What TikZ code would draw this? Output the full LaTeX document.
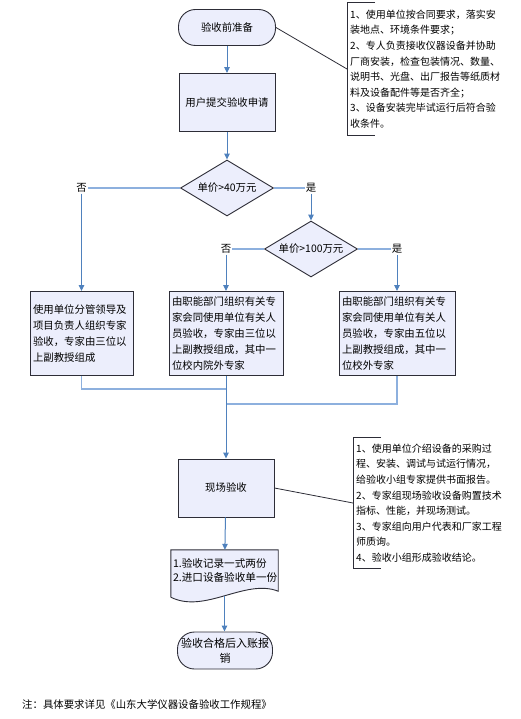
\documentclass[tikz,border=0pt]{standalone}
\usepackage{fontspec}
\setmainfont{Noto Sans CJK SC}
\usetikzlibrary{positioning,arrows.meta,calc,shapes.geometric,backgrounds}
\definecolor{boxfill}{RGB}{236,238,252}
\definecolor{arcol}{RGB}{79,129,189}
\definecolor{lncol}{RGB}{141,176,222}
\definecolor{edgecol}{RGB}{45,45,55}

\begin{document}
\begin{tikzpicture}[
  x=1pt, y=-1pt,
  font=\fontsize{10.4}{16}\selectfont,
  term/.style={draw=edgecol, line width=0.9pt, fill=boxfill, rounded corners=17pt, minimum width=97pt, minimum height=36pt, align=center, inner sep=2pt},
  proc/.style={draw=edgecol, line width=0.9pt, fill=boxfill, minimum width=96pt, minimum height=58pt, align=center},
  dec/.style={diamond, draw=edgecol, line width=0.9pt, fill=boxfill, minimum width=93pt, minimum height=56pt, inner sep=0pt},
  tbox/.style={draw=edgecol, line width=0.9pt, fill=boxfill, align=left, inner sep=3pt, minimum height=84pt},
  note/.style={align=left, inner sep=3pt, font=\fontsize{10}{15.6}\selectfont, text width=162pt},
  yn/.style={inner sep=1pt},
  ar/.style={arcol, line width=1pt, -{Triangle[length=6pt,width=5.5pt]}},
  ln/.style={lncol, line width=1.2pt},
  br/.style={edgecol, line width=0.8pt},
]
\useasboundingbox (0,0) rectangle (520,719);
\def\xm{226} \def\xa{81.5} \def\xr{311} \def\xc{397}
% ---- top: preparation and request ----
\node[term] (start) at (227,27.5) {验收前准备};
\node[proc] (req) at (227,102.5) {用户提交验收申请};
\node[note, anchor=west, minimum height=132pt] (n1) at (347,69) {1、使用单位按合同要求，落实安\\装地点、环境条件要求；\\2、专人负责接收仪器设备并协助\\厂商安装，检查包装情况、数量、\\说明书、光盘、出厂报告等纸质材\\料及设备配件等是否齐全；\\3、设备安装完毕试运行后符合验\\收条件。};
% ---- price decisions ----
\node[dec, label=center:{单价>40万元}] (d1) at (227,188) {};
\node[yn] (no1) at (\xa,188) {否};
\node[yn] (yes1) at (\xr,188) {是};
\node[dec, label=center:{单价>100万元}] (d2) at (\xr,249) {};
\node[yn] (no2) at (\xm,249) {否};
\node[yn] (yes2) at (\xc,249) {是};
% ---- expert groups ----
\node[tbox, text width=97pt] (ga) at (\xa,333.5) {使用单位分管领导及\\项目负责人组织专家\\验收，专家由三位以\\上副教授组成};
\node[tbox, text width=108pt] (gb) at (\xm,333.5) {由职能部门组织有关专\\家会同使用单位有关人\\员验收，专家由三位以\\上副教授组成，其中一\\位校内院外专家};
\node[tbox, text width=110pt] (gc) at (\xc,333.5) {由职能部门组织有关专\\家会同使用单位有关人\\员验收，专家由五位以\\上副教授组成，其中一\\位校外专家};
\coordinate (ja) at (\xm,389);
\coordinate (jc) at (\xm,404);
% ---- on-site check ----
\node[proc] (field) at (\xm,488) {现场验收};
\node[note, anchor=west, minimum height=130pt] (n2) at (353,503) {1、使用单位介绍设备的采购过\\程、安装、调试与试运行情况，\\给验收小组专家提供书面报告。\\2、专家组现场验收设备购置技术\\指标、性能，并现场测试。\\3、专家组向用户代表和厂家工程\\师质询。\\4、验收小组形成验收结论。};
\node[align=left, inner sep=2pt, minimum width=107pt, minimum height=41pt, text width=103pt, font=\fontsize{10.6}{14}\selectfont] (doc) at (224.5,570.5) {1.验收记录一式两份\\2.进口设备验收单一份};
\coordinate (dbot) at ($(doc.south)+(0,5)$);
\node[term, minimum width=95pt, minimum height=37pt, font=\fontsize{11}{15}\selectfont] (endt) at (225,650.5) {验收合格后入账报\\销};
\node[anchor=west, inner sep=0pt] (foot) at (22,705) {注：具体要求详见《山东大学仪器设备验收工作规程》};
% connectors
\draw[ar] (start) -- (req);
\draw[ar] (req) -- (d1);
\draw[ln] (d1.west) -- (no1.east);
\draw[ln] (d1.east) -- (yes1.west);
\draw[ln] (d2.west) -- (no2.east);
\draw[ln] (d2.east) -- (yes2.west);
\draw[ar] (yes1) -- (d2);
\foreach \a/\b in {no1/ga,no2/gb,yes2/gc}{ \draw[ar] (\a) -- (\b); }
\draw[ln] (ga.south) |- (ja);
\draw[ln] (gc.south) |- (jc);
\draw[ar] (gb) -- (field);
\draw[ar] (field) -- (doc);
\draw[ar] (dbot) -- (dbot |- endt.north);
% notes
\draw[br] (start.east) -- (n1.west);
\draw[br] (field.east) -- (n2.west);
\foreach \n in {n1,n2}{ \draw[br] ([xshift=28pt]\n.north west) -- (\n.north west) -- (\n.south west) -- ([xshift=28pt]\n.south west); }
% document shape
\begin{scope}[on background layer]
\draw[draw=edgecol, line width=0.9pt, fill=boxfill] ($(doc.south west)+(0,6)$) -- (doc.north west) -- (doc.north east) -- (doc.south east) .. controls ($(doc.south east)+(-33,-13)$) and ($(doc.south west)+(34,23)$) .. ($(doc.south west)+(0,6)$);
\end{scope}
\end{tikzpicture}
\end{document}
